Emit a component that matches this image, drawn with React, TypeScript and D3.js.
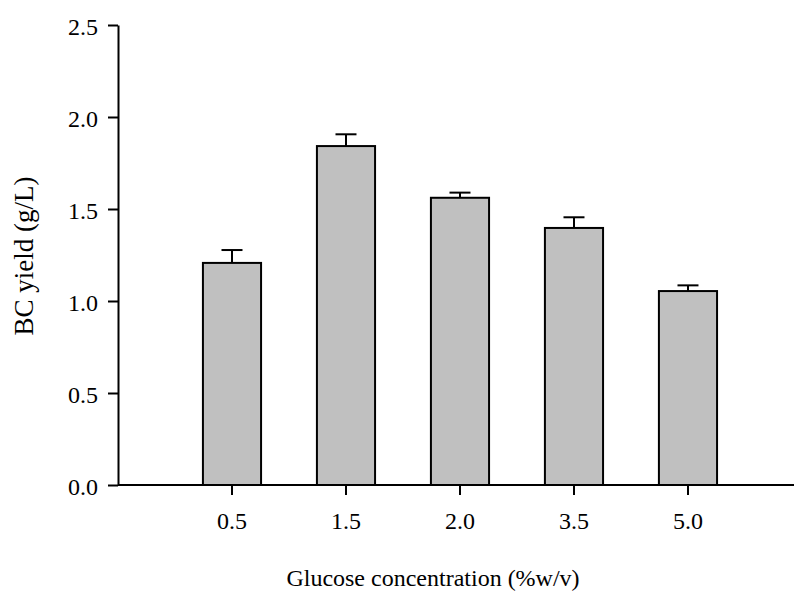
import { useEffect, useRef } from 'react';
import * as d3 from 'd3';

// glucose concentration categories (%w/v)
const categories = ['0.5', '1.5', '2.0', '3.5', '5.0'];
// BC yield (g/L) and upper error
const yields = [1.207, 1.842, 1.561, 1.397, 1.054];
const errors = [0.07, 0.064, 0.028, 0.058, 0.031];
const yTicks = [0, 0.5, 1.0, 1.5, 2.0, 2.5];

const FONT = '"Liberation Serif", "Times New Roman", serif';

const App = () => {
    const svgRef = useRef<SVGSVGElement | null>(null);

    useEffect(() => {
        if (!svgRef.current) return;
        const svg = d3.select(svgRef.current);
        svg.selectAll('*').remove();

        const width = 795;
        const height = 592;
        svg.attr('width', width).attr('height', height);

        // category slots are at 1..5, axis runs a bit past the last one
        const x = d3.scaleLinear().domain([0, 5.93]).range([118, 794]);
        const y = d3.scaleLinear().domain([0, 2.5]).range([485, 25]);
        const barW = x(0.51) - x(0);

        const g = svg.append('g');

        // bars
        g.selectAll('.bar')
            .data(yields)
            .enter()
            .append('rect')
            .attr('class', 'bar')
            .attr('x', (_, i) => x(i + 1) - barW / 2)
            .attr('y', (d) => y(d))
            .attr('width', barW)
            .attr('height', (d) => y(0) - y(d))
            .attr('fill', '#c0c0c0')
            .attr('stroke', '#000')
            .attr('stroke-width', 2);

        // error bars (upper only)
        const capW = 21;
        yields.forEach((v, i) => {
            const cx = x(i + 1);
            g.append('line')
                .attr('x1', cx)
                .attr('x2', cx)
                .attr('y1', y(v))
                .attr('y2', y(v + errors[i]))
                .attr('stroke', '#000')
                .attr('stroke-width', 2);
            g.append('line')
                .attr('x1', cx - capW / 2)
                .attr('x2', cx + capW / 2)
                .attr('y1', y(v + errors[i]))
                .attr('y2', y(v + errors[i]))
                .attr('stroke', '#000')
                .attr('stroke-width', 2);
        });

        // y axis
        const yAxis = g
            .append('g')
            .attr('transform', `translate(${x(0)},0)`)
            .call(
                d3
                    .axisLeft(y)
                    .tickValues(yTicks)
                    .tickFormat(d3.format('.1f'))
                    .tickSize(10)
                    .tickSizeOuter(0)
                    .tickPadding(10)
            );
        yAxis.select('.domain').attr('stroke-width', 2);
        yAxis.selectAll('.tick line').attr('stroke-width', 2);
        yAxis
            .selectAll('.tick text')
            .attr('font-family', FONT)
            .attr('font-size', 24)
            .attr('fill', '#000')
            .attr('dy', '0.38em');

        // x axis
        const xAxis = g.append('g').attr('transform', `translate(0,${y(0)})`);
        xAxis
            .append('line')
            .attr('x1', x(0))
            .attr('x2', x(5.93))
            .attr('stroke', '#000')
            .attr('stroke-width', 2);
        categories.forEach((c, i) => {
            xAxis
                .append('line')
                .attr('x1', x(i + 1))
                .attr('x2', x(i + 1))
                .attr('y1', 0)
                .attr('y2', 10)
                .attr('stroke', '#000')
                .attr('stroke-width', 2);
            xAxis
                .append('text')
                .attr('x', x(i + 1))
                .attr('y', 44)
                .attr('text-anchor', 'middle')
                .attr('font-family', FONT)
                .attr('font-size', 24)
                .text(c);
        });

        // axis titles
        svg.append('text')
            .attr('x', 433)
            .attr('y', 586)
            .attr('text-anchor', 'middle')
            .attr('font-family', FONT)
            .attr('font-size', 24)
            .text('Glucose concentration (%w/v)');

        svg.append('text')
            .attr('transform', 'translate(33,256) rotate(-90)')
            .attr('text-anchor', 'middle')
            .attr('font-family', FONT)
            .attr('font-size', 27)
            .text('BC yield (g/L)');
    }, []);

    return <svg ref={svgRef} style={{ position: 'absolute', left: 0, top: 0 }}></svg>;
};

export default App;
